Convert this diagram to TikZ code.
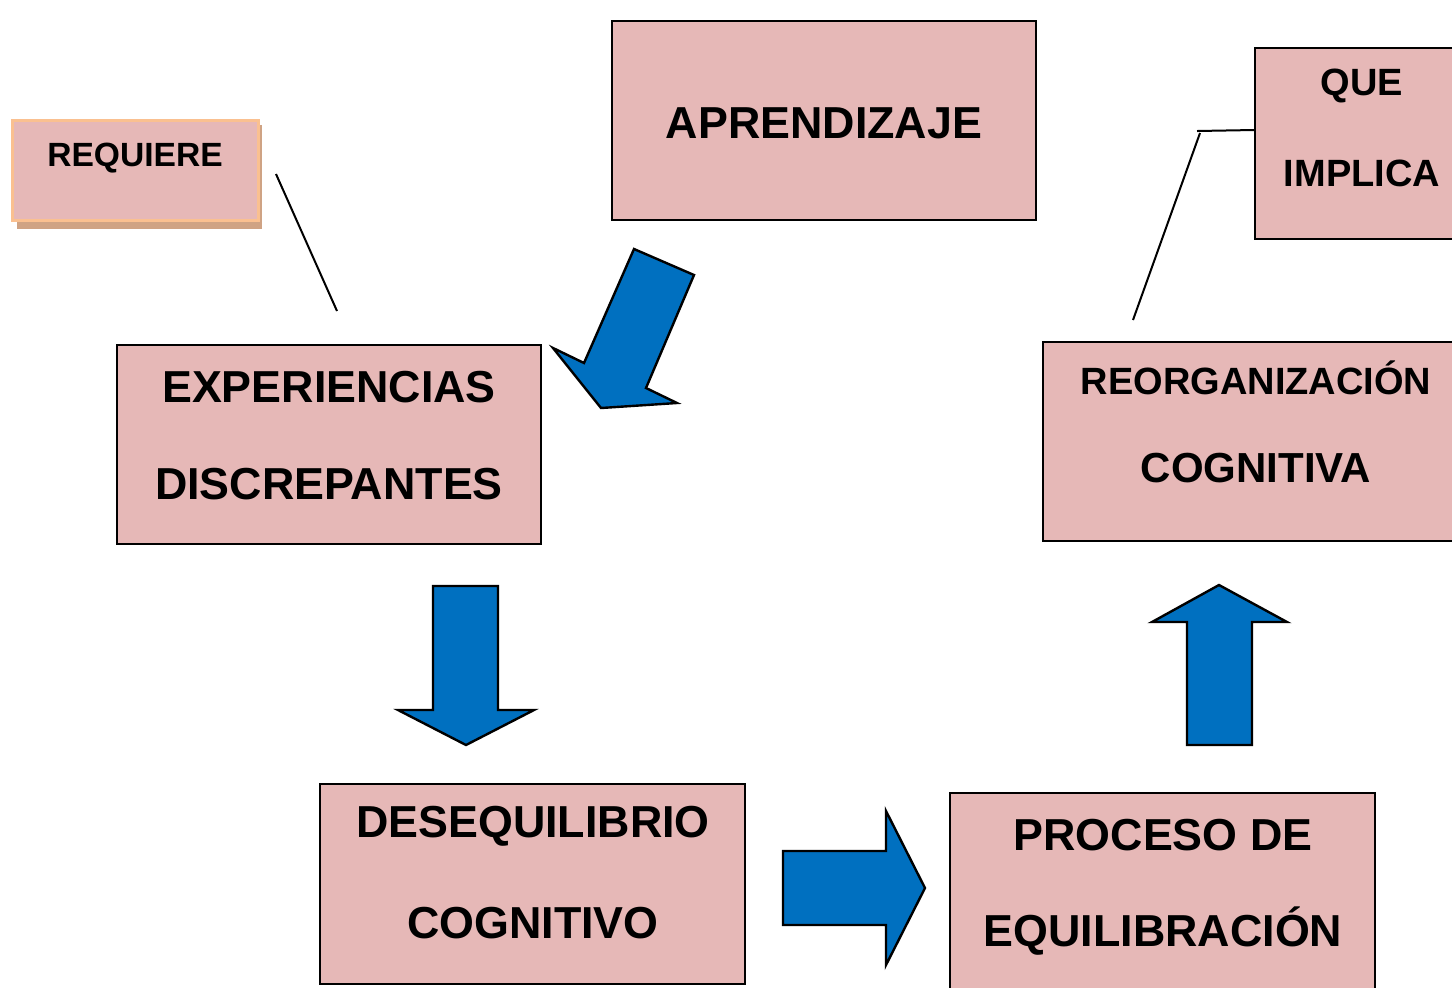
\documentclass[tikz,border=0pt]{standalone}
\usepackage{fontspec}
\setmainfont{Liberation Sans}
\definecolor{boxpink}{HTML}{E6B8B7}
\definecolor{arrowblue}{HTML}{0070C0}
\definecolor{orangeedge}{HTML}{FAC090}
\definecolor{shadowtan}{HTML}{CFA384}
\begin{document}
\begin{tikzpicture}[x=0.5pt,y=-0.5pt,
  box/.style={draw=black,line width=1pt,fill=boxpink,rectangle,inner sep=0pt},
  lbl/.style={inner sep=0pt,font=\bfseries\fontsize{22.4}{26}\selectfont},
  lblsmall/.style={inner sep=0pt,font=\bfseries\fontsize{19}{23}\selectfont},
  blockarrow/.style={draw=black,line width=1.2pt,fill=arrowblue,line join=miter},
  link/.style={draw=black,line width=1pt}]
\useasboundingbox (0,0) rectangle (1452,987);
\begin{scope}
\clip (0,0) rectangle (1452,987);
% REQUIERE with shadow
\fill[shadowtan] (17,125) rectangle (262,229);
\node[box,draw=orangeedge,line width=1.5pt,minimum width=123pt,minimum height=50pt] (req) at (135,170) {};
\node[inner sep=0pt,font=\bfseries\fontsize{16.8}{20}\selectfont] (reqt) at (135,158) {REQUIERE};
% APRENDIZAJE
\node[box,minimum width=212pt,minimum height=99.5pt] (apr) at (824,120.5) {};
\node[lbl] (aprt) at (824,123) {APRENDIZAJE};
% EXPERIENCIAS
\node[box,minimum width=212pt,minimum height=99.5pt] (exp) at (329,444.5) {};
\node[lbl] (expt1) at (329,387) {EXPERIENCIAS};
\node[lbl] (expt2) at (329,484) {DISCREPANTES};
% DESEQUILIBRIO
\node[box,minimum width=212.5pt,minimum height=100pt] (des) at (532.5,884) {};
\node[lbl] (dest1) at (533,826) {DESEQUILIBRIO};
\node[lbl] (dest2) at (533,923) {COGNITIVO};
% PROCESO
\node[box,minimum width=212.5pt,minimum height=100pt] (pro) at (1162.5,893) {};
\node[lbl] (prot1) at (1163,835) {PROCESO DE};
\node[lbl] (prot2) at (1163,931) {EQUILIBRACIÓN};
% REORGANIZACION
\node[box,minimum width=213pt,minimum height=99.5pt] (reo) at (1256,441.5) {};
\node[lblsmall] (reot1) at (1256,378) {REORGANIZACIÓN};
\node[lblsmall,font=\bfseries\fontsize{21}{25}\selectfont] (reot2) at (1256,468) {COGNITIVA};
% QUE IMPLICA
\node[box,minimum width=106.5pt,minimum height=95.5pt] (que) at (1361.5,143.5) {};
\node[lblsmall] (quet1) at (1362,86) {QUE};
\node[lblsmall] (quet2) at (1362,173) {IMPLICA};
\end{scope}
% connectors
\coordinate (reqA) at (276,174);
\coordinate (reqB) at (337,311);
\draw[link] (reqA) -- (reqB);
\coordinate (queA) at (1197,131);
\coordinate (queB) at (1200,133);
\coordinate (queC) at (1133,320);
\draw[link] (que.west |- 0,130) -- (queA);
\draw[link] (queB) -- (queC);
% block arrows
\draw[blockarrow] (634,249) -- (694,275) -- (646,388) -- (677,403) -- (601,408) -- (553,348) -- (584,363) -- cycle;
\draw[blockarrow] (433,586) -- (498,586) -- (498,710) -- (534,710) -- (466,745) -- (398,710) -- (433,710) -- cycle;
\draw[blockarrow] (783,851) -- (886,851) -- (886,811) -- (925,888) -- (886,965) -- (886,925) -- (783,925) -- cycle;
\draw[blockarrow] (1187,745) -- (1187,622) -- (1152,622) -- (1219,585) -- (1287,622) -- (1252,622) -- (1252,745) -- cycle;
\end{tikzpicture}
\end{document}
